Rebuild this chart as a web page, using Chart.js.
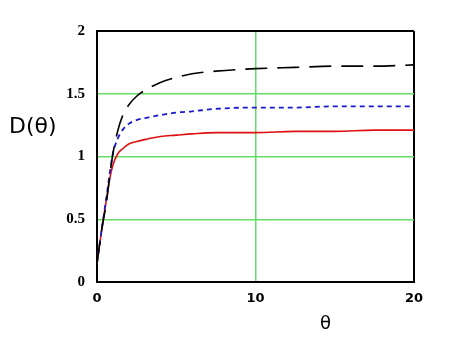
<!DOCTYPE html>
<html>
<head>
<meta charset="utf-8">
<script src="https://cdn.jsdelivr.net/npm/chart.js@4"></script>
<style>
    body { margin: 0; background: #fff; }
    #wrap { position: relative; width: 460px; height: 345px; }
    .lbl { position: absolute; font-family: "DejaVu Sans", sans-serif; color: #000; }
    #yTitle { left: 9px; top: 113px; font-size: 22px; }
    #xTitle { left: 320px; top: 312px; font-size: 18px; }
</style>
</head>
<body>
<div id="wrap">
    <canvas id="chart" width="460" height="345"></canvas>
    <div class="lbl" id="yTitle">D(θ)</div>
    <div class="lbl" id="xTitle">θ</div>
</div>
<script>
const thetas    = [0, 0.3, 0.6, 0.8, 1.0, 1.3, 1.6, 2.0, 2.5, 3.2, 4.0, 5.0, 6.0, 7.5, 10, 12.5, 15, 17.5, 20];
const redVals   = [0.15, 0.42, 0.66, 0.82, 0.93, 1.02, 1.06, 1.10, 1.12, 1.14, 1.16, 1.17, 1.18, 1.19, 1.19, 1.20, 1.20, 1.21, 1.21];
const blueVals  = [0.15, 0.42, 0.68, 0.86, 1.02, 1.14, 1.21, 1.26, 1.29, 1.31, 1.33, 1.35, 1.36, 1.38, 1.39, 1.39, 1.40, 1.40, 1.40];
const blackVals = [0.15, 0.42, 0.64, 0.84, 1.02, 1.20, 1.32, 1.41, 1.48, 1.54, 1.59, 1.63, 1.66, 1.68, 1.70, 1.71, 1.72, 1.72, 1.73];
const yTicks = [0, 0.5, 1, 1.5, 2];
const xTicks = [0, 10, 20];

const GRID_GREEN = "#66dd66";

function toPoints(vals) {
    return thetas.map((t, i) => ({ x: t, y: vals[i] }));
}

function gridColor(ctx, min, max) {
    const v = ctx.tick ? ctx.tick.value : null;
    if (v === min || v === max) return "#000";
    return GRID_GREEN;
}

function gridWidth(ctx, min, max) {
    const v = ctx.tick ? ctx.tick.value : null;
    return (v === min || v === max) ? 2 : 1.5;
}

new Chart(document.getElementById("chart"), {
    type: "line",
    data: {
        datasets: [
            { data: toPoints(blackVals), borderColor: "#000", borderWidth: 1.6, borderDash: [22, 10], pointRadius: 0, cubicInterpolationMode: "monotone" },
            { data: toPoints(blueVals), borderColor: "#1a1acc", borderWidth: 1.8, borderDash: [5, 4], pointRadius: 0, cubicInterpolationMode: "monotone" },
            { data: toPoints(redVals), borderColor: "#e01010", borderWidth: 1.6, pointRadius: 0, cubicInterpolationMode: "monotone" }
        ]
    },
    options: {
        responsive: false,
        animation: false,
        layout: { padding: { left: 0, top: 31, right: 46, bottom: 0 } },
        plugins: { legend: { display: false }, tooltip: { enabled: false } },
        scales: {
            x: {
                type: "linear",
                min: 0,
                max: 20,
                afterBuildTicks: s => { s.ticks = xTicks.map(v => ({ value: v })); },
                afterFit: s => { s.height = 63; },
                grid: {
                    drawTicks: false,
                    color: c => gridColor(c, 0, 20),
                    lineWidth: c => gridWidth(c, 0, 20)
                },
                border: { color: "#000", width: 2 },
                ticks: {
                    padding: 9,
                    color: "#000",
                    callback: v => String(v),
                    font: { family: "DejaVu Sans", size: 13, weight: "bold" }
                }
            },
            y: {
                min: 0,
                max: 2,
                afterBuildTicks: s => { s.ticks = yTicks.map(v => ({ value: v })); },
                afterFit: s => { s.width = 97; },
                grid: {
                    drawTicks: false,
                    color: c => gridColor(c, 0, 2),
                    lineWidth: c => gridWidth(c, 0, 2)
                },
                border: { color: "#000", width: 2 },
                ticks: {
                    padding: 12,
                    color: "#000",
                    callback: v => String(v),
                    font: { family: "Liberation Serif", size: 15, weight: "bold" }
                }
            }
        }
    }
});
</script>
</body>
</html>
